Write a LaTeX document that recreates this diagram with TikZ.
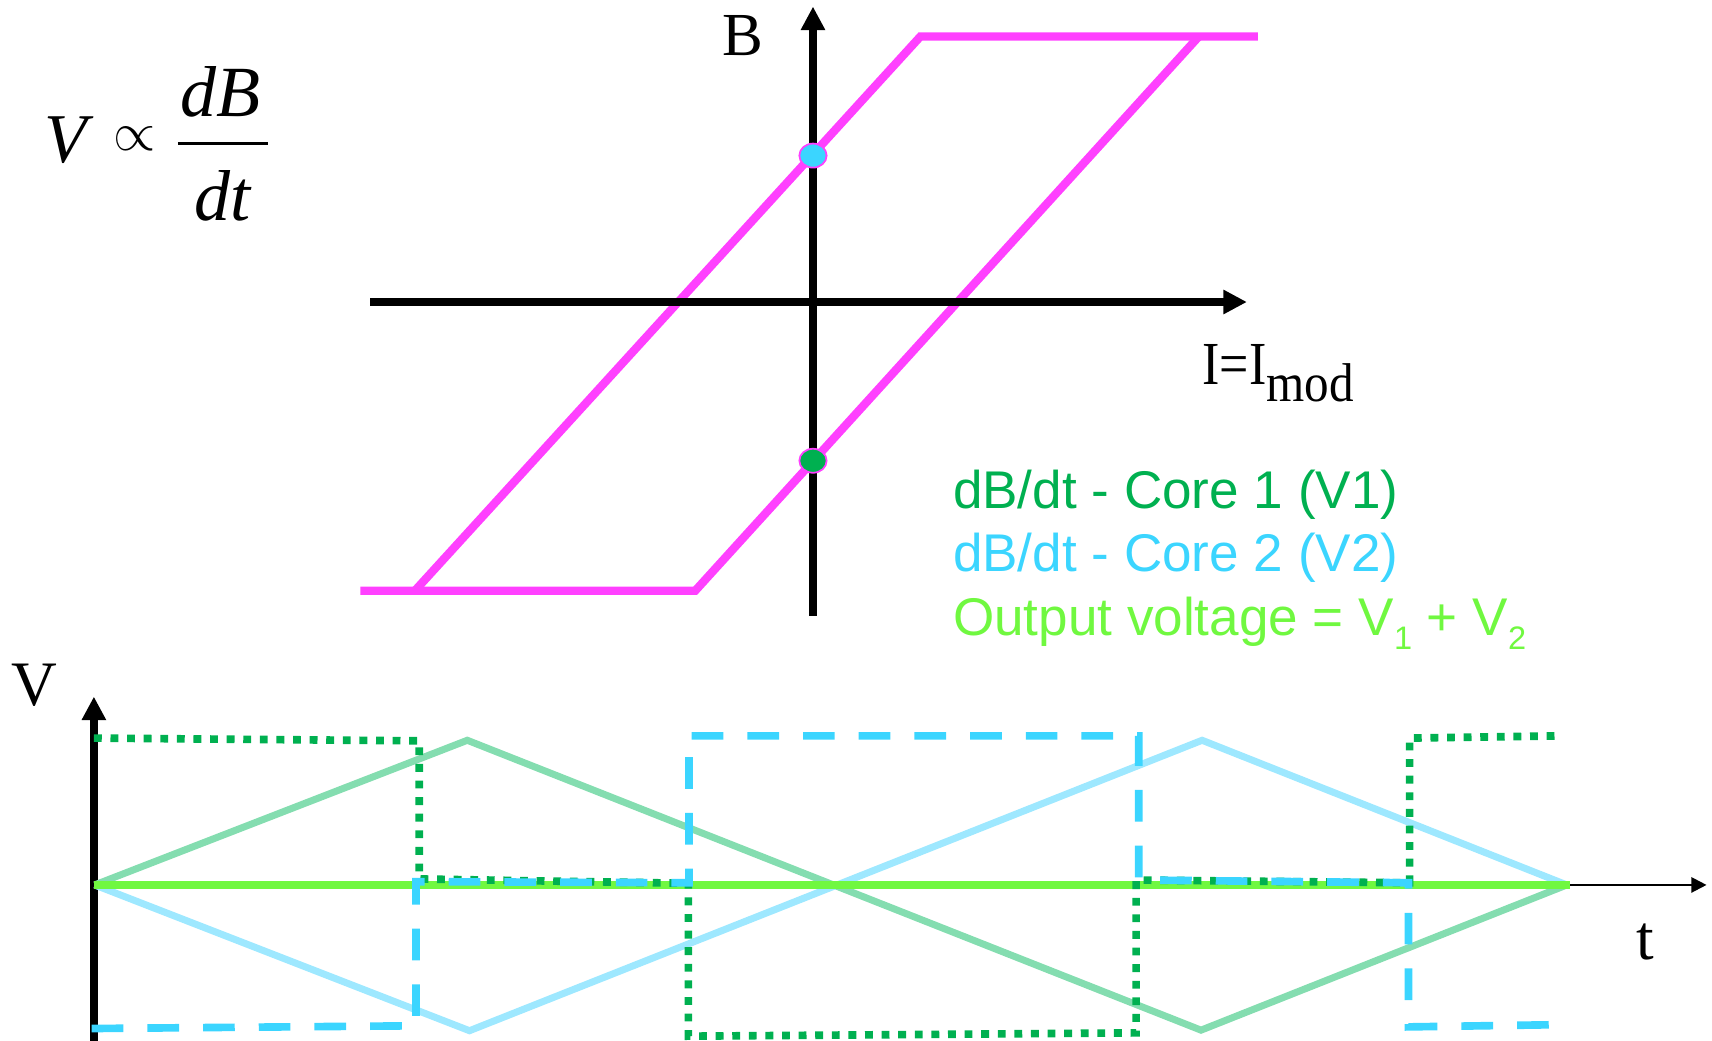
\documentclass[tikz,border=0pt]{standalone}
\usepackage{fontspec}
\setmainfont{Liberation Serif}
\newfontfamily\arialf{Liberation Sans}
\usetikzlibrary{arrows.meta,shapes.geometric}
\definecolor{magloop}{RGB}{255,64,255}
\definecolor{coreone}{RGB}{0,176,80}
\definecolor{coretwo}{RGB}{59,213,255}
\definecolor{outgreen}{RGB}{112,248,64}
\definecolor{trione}{RGB}{132,221,176}
\definecolor{tritwo}{RGB}{158,232,255}
\newcommand\legsub[1]{\raisebox{-6.85pt}{\fontsize{14.9}{15}\selectfont #1}}
\begin{document}
\begin{tikzpicture}[x=0.5pt,y=-0.5pt,
  axisline/.style={line width=3.5pt,-{Triangle[length=10.75pt,width=10.5pt]}},
  thinaxis/.style={line width=1pt,-{Triangle[length=7pt,width=7pt]}},
  looppath/.style={magloop,line width=3.8pt,line join=miter},
  triwave/.style={line width=3.2pt,line join=miter},
  dotwave/.style={coreone,line width=3.5pt,dash pattern=on 3.6pt off 4pt},
  dashwave/.style={coretwo,line width=3.5pt,dash pattern=on 14.5pt off 11pt},
  serlabel/.style={anchor=base west,inner sep=0pt,font=\fontsize{28}{30}\selectfont},
  legend/.style={anchor=base west,inner sep=0pt,font=\arialf\fontsize{24.3}{26}\selectfont},
  bhdot/.style={ellipse,draw=magloop,line width=0.8pt,minimum width=12.5pt,minimum height=11pt,inner sep=0pt}
]
\useasboundingbox (0,0) rectangle (1568,953);

% ---------- formula ----------
\node[anchor=base west,inner sep=0pt,font=\fontsize{32}{34}\selectfont\itshape] (fv) at (40,149) {V};
\node[inner sep=0pt] (fprop) at (123.5,127) {\fontsize{27}{28}\selectfont$\propto$};
\node[anchor=base,inner sep=0pt,font=\fontsize{33}{34}\selectfont\itshape] (fdb) at (202,107) {dB};
\node[anchor=base,inner sep=0pt,font=\fontsize{33}{34}\selectfont\itshape] (fdt) at (204,201.5) {dt};
\coordinate (fl1) at (163,131);
\coordinate (fl2) at (245,131);
\draw[line width=1.4pt] (fl1) -- (fl2);

% ---------- hysteresis loop ----------
\draw[looppath] (330,541) -- (636.8,541) -- (1098,33.4);
\draw[looppath] (380,541) -- (843,33.4) -- (1152,33.4);

\coordinate (hl) at (339,276.6);
\coordinate (hr) at (1142,276.6);
\coordinate (vb) at (744.6,564);
\coordinate (vt) at (744.6,6);
\draw[axisline] (hl) -- (hr);
\draw[axisline] (vb) -- (vt);

\node[bhdot,fill=coretwo] (dottwo) at (744.6,142.5) {};
\node[bhdot,fill=coreone] (dotone) at (744.6,422) {};

\node[serlabel] (blabel) at (661,50.4) {B};
\node[anchor=base west,inner sep=0pt] (ilabel) at (1101,352.6)
  {\scalebox{0.85}[1]{\fontsize{28}{30}\selectfont I=I}\raisebox{-7.7pt}{\fontsize{25}{26}\selectfont\scalebox{0.9}[1]{mod}}};

% ---------- legend ----------
\node[legend,text=coreone] (legone) at (872.5,465.6) {dB/dt - Core 1 (V1)};
\node[legend,text=coretwo] (legtwo) at (872.5,523.6) {dB/dt - Core 2 (V2)};
\node[legend,text=outgreen] (legout) at (872.5,581.6) {Output voltage = V\legsub{1} + V\legsub{2}};

% ---------- time chart ----------
\coordinate (vab) at (86,955);
\coordinate (vat) at (86,638);
\coordinate (tal) at (86,810.5);
\coordinate (tar) at (1563,810.5);
\draw[axisline] (vab) -- (vat);
\draw[thinaxis] (tal) -- (tar);

\draw[triwave,trione] (86.7,810.5) -- (428,678) -- (1100,943.5) -- (1435,810.5);
\draw[triwave,tritwo] (86.7,810.5) -- (430,944) -- (1101,678) -- (1435,810.5);

\coordinate (outend) at (1438,810.5);
\draw[outgreen,line width=3.8pt] (tal) -- (outend);

\draw[dotwave] (86,676) -- (384,678.5) -- (384,805) -- (630.5,809) -- (630.5,949)
  -- (1040.5,946) -- (1040.5,806) -- (1291,808.5) -- (1291,676) -- (1425.5,674);
\draw[dashwave] (84,942) -- (381,939.5) -- (381,807.5) -- (631,808.5) -- (631,674)
  -- (1043,674) -- (1043,806) -- (1290,808.5) -- (1290,940.5) -- (1425.5,938.5);

\node[serlabel,anchor=base,font=\fontsize{29}{30}\selectfont] (vlab) at (31.5,645.7) {V};
\node[serlabel,anchor=base,font=\fontsize{29}{30}\selectfont] (tlab) at (1507,879) {t};
\end{tikzpicture}
\end{document}
